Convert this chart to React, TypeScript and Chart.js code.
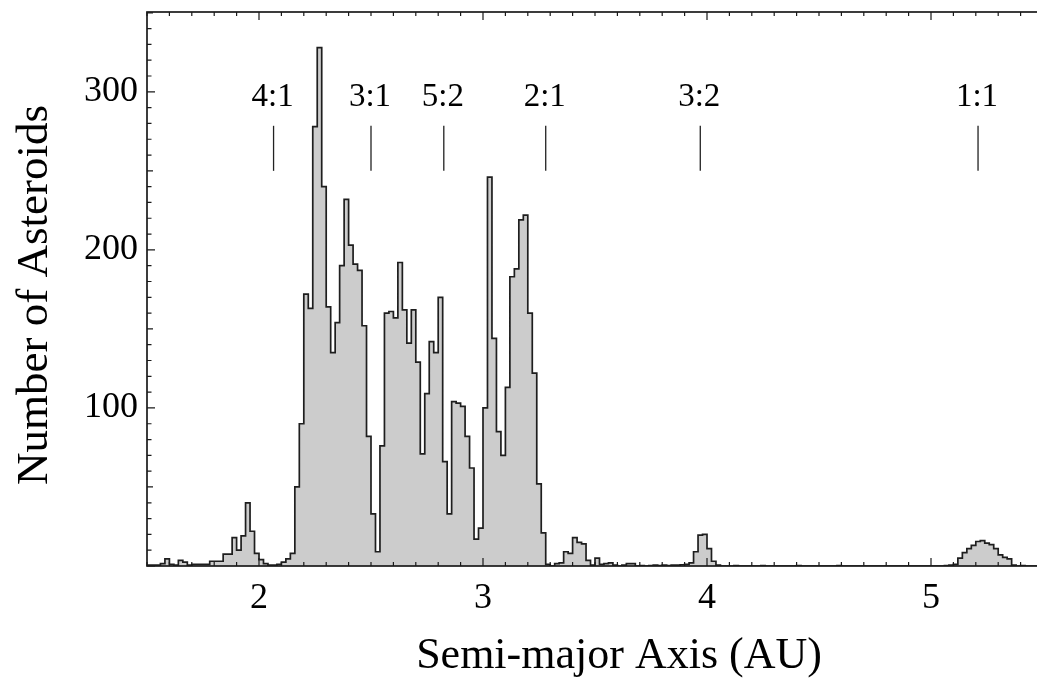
import { useEffect, useRef } from "react";
import { Chart, registerables } from "chart.js";

Chart.register(...registerables);

// Histogram bins (semi-major axis, AU)
const binStartAU = 1.5;
const binWidthAU = 0.02;
const binCounts = [
  0.5, 0.5, 0.5, 1.5, 4.5, 1, 0.5, 3.5, 2.5, 0.5,
  1, 1, 1, 1, 3, 3, 3, 7.5, 7.5, 18,
  10, 19, 40, 22, 8, 4, 1.5, 0.5, 0.5, 1,
  2.5, 4.5, 8, 50, 90, 172, 163, 278, 328, 240,
  164, 135, 154, 190, 232, 203, 191, 187, 152, 82,
  33, 9, 76, 160, 161, 157, 192, 162, 141, 162,
  129, 71, 109, 142, 135, 170, 66, 33, 104, 103,
  101, 82, 62, 17, 24, 100, 246, 144, 85, 70,
  113, 183, 188, 219, 222, 160, 122, 52, 21, 1,
  0, 1.5, 2, 9, 8, 18, 15, 14, 3.5, 0.5,
  5, 1, 1.5, 2, 0.5, 0, 0.5, 1.5, 1.5, 0,
  0.3, 0, 0.3, 0.5, 0.3, 0.5, 0.3, 0.5, 0.5, 0.8,
  1, 2, 9, 19.5, 20, 11, 3, 0.5, 0, 0,
  0, 0.3, 0, 0, 0, 0, 0, 0.3, 0, 0,
  0, 0, 0, 0, 0, 0.3, 0, 0, 0, 0,
  0, 0, 0, 0, 0.3, 0, 0, 0, 0, 0,
  0, 0, 0, 0, 0, 0, 0, 0, 0, 0,
  0, 0, 0, 0, 0, 0, 0, 0, 0.3, 0.5,
  1, 5, 8.5, 11, 13, 15.5, 16, 14.5, 13.5, 11,
  7, 5.5, 4.5, 0.5, 0, 0.3, 0, 0, 0, 0,
];

const xTickValues = [2, 3, 4, 5];
const yTickValues = [100, 200, 300];

const resonanceLabels = ["4:1", "3:1", "5:2", "2:1", "3:2", "1:1"];
const resonanceAU = [2.065, 2.5, 2.825, 3.28, 3.97, 5.21];

const xTitle = "Semi-major Axis (AU)";
const yTitle = "Number of Asteroids";

const SERIF = '"Liberation Serif", "Times New Roman", Times, serif';

export default function App() {
  const ref = useRef<HTMLCanvasElement>(null);

  useEffect(() => {
    const canvas = ref.current;
    if (!canvas) return;

    const points = binCounts.map((c, i) => ({ x: binStartAU + i * binWidthAU, y: c }));
    points.push({
      x: binStartAU + binCounts.length * binWidthAU,
      y: binCounts[binCounts.length - 1],
    });

    const decor = {
      id: "decor",
      afterDatasetsDraw(chart: any) {
        const { ctx, chartArea: a } = chart;
        const x = chart.scales.x;
        const y = chart.scales.y;
        ctx.save();
        ctx.strokeStyle = "#1a1a1a";
        ctx.lineWidth = 1.2;
        ctx.beginPath();
        for (let i = 0; ; i++) {
          const v = Math.round((x.min + i * 0.1) * 10) / 10;
          if (v > x.max + 1e-9) break;
          const px = x.getPixelForValue(v);
          const major = Math.abs(v - Math.round(v)) < 1e-6;
          const len = major ? 8 : 4;
          ctx.moveTo(px, a.bottom);
          ctx.lineTo(px, a.bottom - len);
          ctx.moveTo(px, a.top);
          ctx.lineTo(px, a.top + len);
        }
        for (let v = 0; v <= y.max; v += 10) {
          const py = y.getPixelForValue(v);
          const len = v % 100 === 0 ? 8 : v % 50 === 0 ? 6 : 4.5;
          ctx.moveTo(a.left, py);
          ctx.lineTo(a.left + len, py);
        }
        ctx.stroke();

        // frame
        ctx.lineWidth = 1.7;
        ctx.strokeStyle = "#1a1a1a";
        ctx.strokeRect(a.left, a.top, a.right - a.left, a.bottom - a.top);

        // resonance markers
        ctx.lineWidth = 1.3;
        ctx.strokeStyle = "#222";
        ctx.fillStyle = "#000";
        ctx.font = `33px ${SERIF}`;
        ctx.textAlign = "center";
        ctx.textBaseline = "alphabetic";
        resonanceAU.forEach((au, i) => {
          const px = x.getPixelForValue(au);
          ctx.beginPath();
          ctx.moveTo(px, y.getPixelForValue(278.5));
          ctx.lineTo(px, y.getPixelForValue(250));
          ctx.stroke();
          ctx.fillText(resonanceLabels[i], px - 1, y.getPixelForValue(291));
        });

        // axis titles
        ctx.font = `44px ${SERIF}`;
        ctx.fillText(xTitle, 619, 668);
        ctx.save();
        ctx.font = `45px ${SERIF}`;
        ctx.translate(47, 295);
        ctx.rotate(-Math.PI / 2);
        ctx.fillText(yTitle, 0, 0);
        ctx.restore();

        ctx.restore();
      },
    };

    const chart = new Chart(canvas, {
      type: "line",
      data: {
        datasets: [
          {
            data: points,
            stepped: "before",
            fill: "origin",
            backgroundColor: "#cccccc",
            borderColor: "#1e1e1e",
            borderWidth: 1.7,
            pointRadius: 0,
            tension: 0,
          },
        ],
      },
      options: {
        animation: false,
        responsive: false,
        devicePixelRatio: 1,
        layout: { padding: { left: 0, top: 12, right: 2, bottom: 0 } },
        plugins: { legend: { display: false }, tooltip: { enabled: false } },
        scales: {
          x: {
            type: "linear",
            min: 1.5,
            max: 5.5,
            grid: { display: false, drawTicks: false },
            border: { display: false },
            afterBuildTicks: (s: any) => {
              s.ticks = xTickValues.map((v) => ({ value: v }));
            },
            afterFit: (s: any) => {
              s.height = 112;
              s.paddingLeft = 0;
              s.paddingRight = 0;
            },
            ticks: {
              padding: 11,
              color: "#000",
              font: { family: SERIF, size: 36 },
              maxRotation: 0,
              autoSkip: false,
              callback: (v: any) => String(v),
            },
          },
          y: {
            type: "linear",
            min: 0,
            max: 350.5,
            grid: { display: false, drawTicks: false },
            border: { display: false },
            afterBuildTicks: (s: any) => {
              s.ticks = yTickValues.map((v) => ({ value: v }));
            },
            afterFit: (s: any) => {
              s.width = 147;
              s.paddingTop = 0;
              s.paddingBottom = 0;
            },
            ticks: {
              padding: 9,
              color: "#000",
              font: { family: SERIF, size: 36 },
              autoSkip: false,
              callback: (v: any) => String(v),
            },
          },
        },
      },
      plugins: [decor],
    } as any);

    return () => chart.destroy();
  }, []);

  return (
    <div
      style={{
        position: "fixed",
        left: 0,
        top: 0,
        width: 1037,
        height: 678,
        overflow: "hidden",
        background: "#fff",
      }}
    >
      <canvas ref={ref} width={1045} height={678} style={{ display: "block" }} />
    </div>
  );
}
